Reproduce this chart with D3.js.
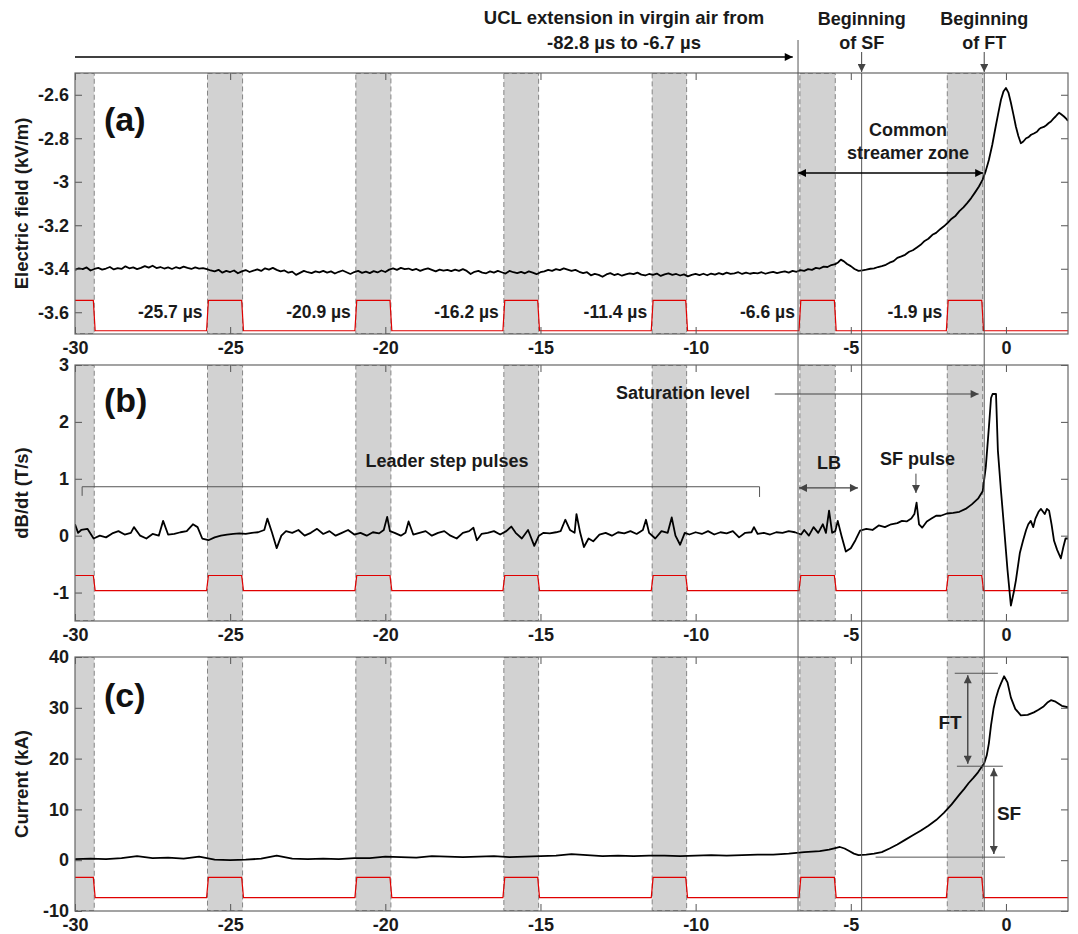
<!DOCTYPE html>
<html>
<head>
<meta charset="utf-8">
<script src="https://cdn.jsdelivr.net/npm/d3@7"></script>
<style>
  body { margin: 0; background: #fff; }
  svg { font-family: "Liberation Sans", Arial, sans-serif; font-weight: bold; }
</style>
</head>
<body>
<div id="chart"></div>
<script>
// ---- data (time in µs) ----
var xTicks = [-30, -25, -20, -15, -10, -5, 0];
var bands = [[-30.5, -29.38], [-25.73, -24.6], [-20.95, -19.82], [-16.18, -15.06], [-11.4, -10.29], [-6.64, -5.5], [-1.89, -0.75]];
var bandLabels = ["-25.7 \u00b5s", "-20.9 \u00b5s", "-16.2 \u00b5s", "-11.4 \u00b5s", "-6.6 \u00b5s", "-1.9 \u00b5s"];
var uclEnd = -6.7, sfStart = -4.65, ftStart = -0.7;

var eTicks = [-2.6, -2.8, -3, -3.2, -3.4, -3.6];
var bTicks = [3, 2, 1, 0, -1];
var iTicks = [40, 30, 20, 10, 0, -10];

// red reference traces: [low, high]
var eRed = [-3.685, -3.545];
var bRed = [-0.965, -0.70];
var iRed = [-7.35, -3.4];

// electric field before the streamer zone, one sample every 0.125 µs from -30 µs
var eFlatStart = -30, eFlatStep = 0.125;
var eFlat = [
  -3.405,-3.398,-3.402,-3.394,-3.408,-3.401,-3.396,-3.404,-3.399,-3.392,-3.403,-3.397,-3.401,-3.389,-3.398,-3.394,
  -3.402,-3.396,-3.388,-3.395,-3.386,-3.397,-3.392,-3.399,
  -3.394,-3.401,-3.393,-3.398,-3.39,-3.396,-3.401,-3.394,-3.399,-3.397,
  -3.402,-3.408,-3.412,-3.405,-3.418,-3.41,-3.415,-3.408,-3.421,-3.412,-3.406,-3.415,-3.409,-3.403,-3.41,-3.398,
  -3.404,-3.396,-3.405,-3.412,-3.408,-3.418,-3.413,-3.428,-3.419,-3.41,-3.416,-3.42,-3.412,-3.417,
  -3.41,-3.418,-3.412,-3.422,-3.414,-3.408,-3.416,-3.424,-3.415,-3.41,-3.419,-3.413,-3.42,-3.411,-3.417,-3.408,
  -3.415,-3.404,-3.398,-3.405,-3.396,-3.402,-3.399,-3.406,-3.401,-3.41,-3.403,-3.398,-3.405,-3.412,-3.404,-3.409,
  -3.405,-3.411,-3.404,-3.41,-3.402,-3.41,-3.424,-3.414,-3.41,-3.418,-3.421,-3.412,-3.418,-3.41,-3.416,-3.422,
  -3.41,-3.416,-3.42,-3.414,-3.421,-3.412,-3.418,-3.425,-3.416,-3.412,-3.405,-3.41,-3.402,-3.406,-3.398,-3.404,
  -3.41,-3.405,-3.414,-3.42,-3.416,-3.43,-3.424,-3.428,-3.437,-3.426,-3.42,-3.429,-3.424,-3.432,-3.426,-3.421,
  -3.425,-3.418,-3.427,-3.431,-3.424,-3.428,-3.422,-3.433,-3.426,-3.421,-3.428,-3.424,-3.431,-3.426,-3.435,-3.428,
  -3.424,-3.429,-3.423,-3.43,-3.422,-3.427,-3.42,-3.426,-3.418,-3.424,-3.421,-3.416,-3.424,-3.418,-3.423,-3.419,
  -3.421,-3.416,-3.423,-3.418,-3.414,-3.42,-3.416,-3.412,-3.418,-3.41
];
// electric field from -6.75 µs on: [time, kV/m]
var eTail = [
  [-6.75,-3.414],[-6.625,-3.406],[-6.5,-3.41],[-6.375,-3.402],[-6.25,-3.405],[-6.125,-3.396],[-6,-3.399],
  [-5.875,-3.39],[-5.75,-3.392],[-5.625,-3.383],[-5.5,-3.379],[-5.4,-3.37],[-5.32,-3.358],[-5.22,-3.366],
  [-5.12,-3.378],[-5,-3.388],[-4.88,-3.401],[-4.75,-3.41],[-4.62,-3.407],[-4.5,-3.404],[-4.37,-3.4],[-4.25,-3.398],
  [-4.12,-3.392],[-4,-3.388],[-3.87,-3.382],[-3.75,-3.372],[-3.62,-3.365],[-3.5,-3.35],[-3.37,-3.343],[-3.25,-3.336],
  [-3.12,-3.322],[-3,-3.315],[-2.87,-3.302],[-2.75,-3.29],[-2.62,-3.272],[-2.5,-3.262],[-2.37,-3.244],[-2.25,-3.235],
  [-2.12,-3.218],[-2,-3.205],[-1.87,-3.188],[-1.75,-3.17],[-1.62,-3.156],[-1.5,-3.135],[-1.37,-3.118],[-1.25,-3.098],
  [-1.12,-3.075],[-1,-3.05],[-0.87,-3.022],[-0.75,-2.99],[-0.65,-2.95],[-0.55,-2.9],[-0.44,-2.83],[-0.33,-2.746],
  [-0.24,-2.68],[-0.16,-2.623],[-0.08,-2.585],[0,-2.569],[0.08,-2.59],[0.16,-2.637],[0.24,-2.69],[0.32,-2.746],
  [0.4,-2.79],[0.48,-2.823],[0.56,-2.815],[0.65,-2.8],[0.73,-2.795],[0.81,-2.784],[0.9,-2.778],[1,-2.77],
  [1.07,-2.758],[1.13,-2.752],[1.22,-2.748],[1.3,-2.74],[1.38,-2.73],[1.45,-2.723],[1.53,-2.71],[1.6,-2.7],
  [1.66,-2.69],[1.71,-2.683],[1.78,-2.69],[1.87,-2.7],[1.94,-2.71],[2,-2.72]
];
var eField = eFlat.map(function(v, i) { return [eFlatStart + i * eFlatStep, v]; }).concat(eTail);

var dBdt = [
  [-30,0.2],[-29.9,0.05],[-29.8,0.1],[-29.6,0.12],[-29.4,-0.05],[-29.2,0],[-29,-0.03],[-28.8,0.04],[-28.6,0.08],
  [-28.4,0.02],[-28.2,0.05],[-28.1,0.15],[-27.9,0],[-27.7,-0.05],[-27.5,0.03],[-27.3,0],[-27.16,0.26],[-27,0.02],
  [-26.8,0.03],[-26.6,0.06],[-26.4,0.08],[-26.2,0.2],[-26.05,0.15],[-25.9,-0.05],[-25.7,-0.08],[-25.5,-0.03],
  [-25.3,0],[-25.1,0.02],[-24.9,0.03],[-24.7,0.04],[-24.5,0.03],[-24.3,0.05],[-24.1,0.06],[-23.9,0.1],[-23.8,0.3],
  [-23.65,0.05],[-23.5,-0.22],[-23.35,0],[-23.2,0.08],[-23,0.05],[-22.8,0.1],[-22.6,0],[-22.4,0.05],[-22.2,0.12],
  [-22,0.03],[-21.8,0.08],[-21.6,0],[-21.4,0.05],[-21.2,0.1],[-21,0.02],[-20.8,0.05],[-20.6,0],[-20.4,0.06],
  [-20.2,0.04],[-20.05,0.1],[-19.94,0.33],[-19.85,0.08],[-19.7,0.05],[-19.5,0],[-19.35,0.05],[-19.25,0.25],
  [-19.1,0.02],[-18.9,0.05],[-18.7,0.08],[-18.5,0],[-18.3,0.05],[-18.1,0.08],[-17.9,0],[-17.7,-0.05],[-17.5,0.05],
  [-17.3,0.08],[-17.16,0.14],[-17.05,-0.08],[-16.9,0.03],[-16.7,0.05],[-16.5,0.08],[-16.3,0.02],[-16.1,0.08],
  [-15.94,0.16],[-15.8,0.05],[-15.6,-0.05],[-15.4,0.1],[-15.2,-0.18],[-15.05,0],[-14.9,0.05],[-14.7,0.04],
  [-14.5,0.06],[-14.35,0.08],[-14.2,0.28],[-14.05,0.1],[-13.9,0.05],[-13.84,0.38],[-13.72,0.05],[-13.6,-0.2],
  [-13.45,-0.05],[-13.3,-0.1],[-13.1,0.02],[-12.9,0.05],[-12.7,0],[-12.5,0.06],[-12.3,0.04],[-12.1,0.08],
  [-11.9,0.03],[-11.7,0.1],[-11.6,0.28],[-11.5,0.05],[-11.3,-0.05],[-11.1,0.08],[-10.9,0.05],[-10.77,0.32],
  [-10.65,0],[-10.5,-0.16],[-10.35,0.05],[-10.2,0.02],[-10,0.06],[-9.8,0.03],[-9.6,0.08],[-9.4,0.02],[-9.2,0.06],
  [-9,0.04],[-8.8,0.08],[-8.6,-0.03],[-8.4,0.05],[-8.2,0.06],[-8.12,0.15],[-8,0.03],[-7.8,0.05],[-7.6,0.02],
  [-7.4,0.06],[-7.2,0.05],[-7,0.08],[-6.8,0.06],[-6.6,0.02],[-6.5,0.1],[-6.35,0],[-6.2,0.15],[-6.05,0.05],
  [-5.9,0.2],[-5.8,0.05],[-5.7,0.44],[-5.6,0.05],[-5.5,0.08],[-5.42,0.26],[-5.3,0],[-5.16,-0.28],[-5,-0.22],
  [-4.85,-0.08],[-4.7,0.09],[-4.5,0.12],[-4.3,0.1],[-4.1,0.18],[-3.9,0.15],[-3.7,0.2],[-3.5,0.22],[-3.35,0.26],
  [-3.2,0.25],[-3.05,0.3],[-2.95,0.38],[-2.88,0.58],[-2.8,0.2],[-2.7,0.14],[-2.55,0.25],[-2.4,0.3],[-2.25,0.35],
  [-2.1,0.35],[-1.9,0.39],[-1.7,0.4],[-1.5,0.42],[-1.3,0.47],[-1.1,0.55],[-0.9,0.65],[-0.75,0.78],[-0.65,1.2],
  [-0.55,1.9],[-0.48,2.42],[-0.43,2.49],[-0.32,2.49],[-0.26,1.5],[-0.16,0.79],[-0.06,0.14],[0.05,-0.6],
  [0.16,-1.23],[0.25,-1],[0.32,-0.79],[0.45,-0.3],[0.55,-0.09],[0.65,0.1],[0.72,0.2],[0.8,0.26],[0.88,0.15],
  [0.95,0.3],[1.05,0.42],[1.13,0.47],[1.25,0.38],[1.32,0.47],[1.39,0.44],[1.47,0.2],[1.55,-0.09],[1.65,-0.25],
  [1.77,-0.4],[1.85,-0.2],[1.92,-0.05],[2,-0.05]
];

var current = [
  [-30,0.2],[-29.5,0.3],[-29,0.2],[-28.5,0.4],[-28,0.8],[-27.5,0.4],[-27,0.5],[-26.5,0.3],[-26,0.7],[-25.5,0.1],
  [-25,0],[-24.5,0.1],[-24,0.3],[-23.5,0.9],[-23,0.3],[-22.5,0.2],[-22,0.3],[-21.5,0.2],[-21,0.4],[-20.5,0.4],
  [-20,0.7],[-19.5,0.6],[-19,0.5],[-18.5,0.8],[-18,0.7],[-17.5,0.6],[-17,0.7],[-16.5,0.8],[-16,0.6],[-15.5,0.7],
  [-15,0.8],[-14.5,0.9],[-14,1.2],[-13.5,1],[-13,0.8],[-12.5,0.9],[-12,0.8],[-11.5,0.9],[-11,0.9],[-10.5,0.8],
  [-10,0.9],[-9.5,1],[-9,0.9],[-8.5,1],[-8,1.1],[-7.5,1.1],[-7,1.3],[-6.5,1.6],[-6,1.8],[-5.7,2.1],[-5.5,2.4],
  [-5.35,2.6],[-5.2,2.3],[-5.05,1.8],[-4.9,1.3],[-4.75,1],[-4.5,1.1],[-4.25,1.3],[-4,1.6],[-3.75,2.3],[-3.5,3.1],
  [-3.25,4],[-3,4.9],[-2.75,5.8],[-2.5,6.8],[-2.25,7.9],[-2,9.3],[-1.75,11],[-1.5,12.9],[-1.35,14],[-1.2,15.2],
  [-1.05,16.2],[-0.9,17.3],[-0.8,18.2],[-0.7,19.1],[-0.62,20.6],[-0.55,23],[-0.48,26.6],[-0.4,29.8],[-0.32,32],
  [-0.24,33.6],[-0.16,34.8],[-0.06,36.2],[0.05,35],[0.16,32],[0.3,29.8],[0.48,28.5],[0.7,28.6],[0.9,29.1],
  [1.05,29.6],[1.2,30.2],[1.35,31.1],[1.45,31.5],[1.6,31.2],[1.8,30.4],[2,30.1]
];

// ---- layout ----
var W = 1078, H = 934;
var svg = d3.select("#chart").append("svg").attr("width", W).attr("height", H);

var defs = svg.append("defs");
function arrowMarker(id, color) {
  defs.append("marker")
    .attr("id", id)
    .attr("viewBox", "0 0 10 10")
    .attr("refX", 10).attr("refY", 5)
    .attr("markerWidth", 10).attr("markerHeight", 8)
    .attr("markerUnits", "userSpaceOnUse")
    .attr("orient", "auto-start-reverse")
    .append("path").attr("d", "M0,0L10,5L0,10z").attr("fill", color);
}
arrowMarker("arrBlack", "#000");
arrowMarker("arrGray", "#444");

var x = d3.scaleLinear().domain([-30, 2]).range([75, 1068]);

var panels = [
  {key: "a", data: eField, red: eRed, ticks: eTicks, domain: [-3.7, -2.5], top: 73, bottom: 334, title: "Electric field (kV/m)", label: "(a)", labelY: 131},
  {key: "b", data: dBdt, red: bRed, ticks: bTicks, domain: [-1.5, 3], top: 365, bottom: 621, title: "dB/dt (T/s)", label: "(b)", labelY: 412},
  {key: "c", data: current, red: iRed, ticks: iTicks, domain: [-10, 40], top: 657, bottom: 911, title: "Current (kA)", label: "(c)", labelY: 707}
];

function redSteps(lv) {
  var pts = [[-30, lv[1]]];
  bands.forEach(function(b) {
    if (b[0] > -30) {
      pts.push([b[0] - 0.03, lv[0]], [b[0] + 0.03, lv[1]]);
    }
    pts.push([b[1] - 0.03, lv[1]], [b[1] + 0.03, lv[0]]);
  });
  pts.push([2, lv[0]]);
  return pts;
}

function styleAxis(g) {
  g.select(".domain").remove();
  g.attr("font-family", null).attr("font-size", 18).attr("font-weight", "bold");
  g.selectAll(".tick line").attr("stroke", "#555");
  g.selectAll(".tick text").attr("fill", "#1a1a1a");
}

panels.forEach(function(p) {
  var y = d3.scaleLinear().domain(p.domain).range([p.bottom, p.top]);
  p.y = y;
  var g = svg.append("g");

  defs.append("clipPath").attr("id", "clip" + p.key)
    .append("rect").attr("x", x(-30)).attr("y", p.top)
    .attr("width", x(2) - x(-30)).attr("height", p.bottom - p.top);

  var plot = g.append("g").attr("clip-path", "url(#clip" + p.key + ")");

  plot.selectAll("rect.band").data(bands).enter().append("rect")
    .attr("class", "band")
    .attr("x", function(d) { return x(d[0]); })
    .attr("width", function(d) { return x(d[1]) - x(d[0]); })
    .attr("y", p.top + 0.5)
    .attr("height", p.bottom - p.top - 1)
    .attr("fill", "#d2d2d2")
    .attr("stroke", "#858585")
    .attr("stroke-width", 1)
    .attr("stroke-dasharray", "5,3");

  var line = d3.line().x(function(d) { return x(d[0]); }).y(function(d) { return y(d[1]); });

  plot.append("path").datum(redSteps(p.red))
    .attr("d", line).attr("fill", "none").attr("stroke", "#e00000").attr("stroke-width", 1.2);

  plot.append("path").datum(p.data)
    .attr("d", line).attr("fill", "none").attr("stroke", "#000").attr("stroke-width", 1.8)
    .attr("stroke-linejoin", "round");

  // axes, ticks pointing inward
  g.append("g").attr("transform", "translate(0," + p.bottom + ")")
    .call(d3.axisBottom(x).tickValues(xTicks).tickSize(-7).tickPadding(7).tickFormat(String))
    .call(styleAxis);
  g.append("g").attr("transform", "translate(0," + p.top + ")")
    .call(d3.axisTop(x).tickValues(xTicks).tickSize(-7).tickFormat(""))
    .call(styleAxis);
  g.append("g").attr("transform", "translate(" + x(-30) + ",0)")
    .call(d3.axisLeft(y).tickValues(p.ticks).tickSize(-7).tickPadding(6).tickFormat(String))
    .call(styleAxis);
  g.append("g").attr("transform", "translate(" + x(2) + ",0)")
    .call(d3.axisRight(y).tickValues(p.ticks).tickSize(-7).tickFormat(""))
    .call(styleAxis);

  g.append("rect")
    .attr("x", x(-30)).attr("y", p.top)
    .attr("width", x(2) - x(-30)).attr("height", p.bottom - p.top)
    .attr("fill", "none").attr("stroke", "#666").attr("stroke-width", 1.2);

  g.append("text")
    .attr("transform", "translate(28," + ((p.top + p.bottom) / 2) + ") rotate(-90)")
    .attr("text-anchor", "middle").attr("font-size", 18.5).attr("fill", "#1a1a1a")
    .text(p.title);

  g.append("text").attr("x", 104).attr("y", p.labelY)
    .attr("font-size", 34).attr("fill", "#111").text(p.label);
});

var pa = panels[0], pb = panels[1], pc = panels[2];

// vertical marker lines crossing all panels
[[uclEnd, 40], [sfStart, pa.top], [ftStart, pa.top]].forEach(function(m) {
  svg.append("line")
    .attr("x1", x(m[0])).attr("x2", x(m[0]))
    .attr("y1", m[1]).attr("y2", pc.bottom)
    .attr("stroke", "#555").attr("stroke-width", 1);
});

function txt(xp, yp, s, size, anchor) {
  return svg.append("text").attr("x", xp).attr("y", yp)
    .attr("font-size", size || 18).attr("text-anchor", anchor || "middle")
    .attr("fill", "#1a1a1a").text(s);
}
function arrow(x1, y1, x2, y2, color, both, w) {
  var id = color === "#000" ? "arrBlack" : "arrGray";
  var l = svg.append("line").attr("x1", x1).attr("y1", y1).attr("x2", x2).attr("y2", y2)
    .attr("stroke", color).attr("stroke-width", w || 1.3)
    .attr("marker-end", "url(#" + id + ")");
  if (both) l.attr("marker-start", "url(#" + id + ")");
  return l;
}
function seg(x1, y1, x2, y2) {
  svg.append("line").attr("x1", x1).attr("y1", y1).attr("x2", x2).attr("y2", y2)
    .attr("stroke", "#555").attr("stroke-width", 1);
}

// top annotations
txt(624, 24, "UCL extension in virgin air from", 18.5);
txt(624, 49, "-82.8 \u00b5s to -6.7 \u00b5s", 18.5);
arrow(x(-30), 57, x(-6.87), 57, "#000", false, 1.6);
txt(x(sfStart), 25, "Beginning", 18);
txt(x(sfStart), 49, "of SF", 18);
arrow(x(sfStart), 52, x(sfStart), 72, "#444", false, 1);
txt(x(ftStart), 25, "Beginning", 18);
txt(x(ftStart), 49, "of FT", 18);
arrow(x(ftStart), 52, x(ftStart), 72, "#444", false, 1);

// panel (a)
bands.slice(1).forEach(function(b, i) {
  txt(x(b[0]) - 5, pa.y(-3.6) + 6, bandLabels[i], 17.5, "end");
});
txt(908, 136, "Common", 18);
txt(908, 159, "streamer zone", 18);
arrow(x(uclEnd), 173, x(ftStart) - 1, 173, "#000", true, 1.6);

// panel (b)
txt(683, 399, "Saturation level", 18);
arrow(x(-7.45), pb.y(2.49), x(-0.88), pb.y(2.49), "#444", false, 1);
txt(447, 467, "Leader step pulses", 18);
seg(x(-29.77), pb.y(0.86), x(-7.94), pb.y(0.86));
seg(x(-29.77), pb.y(0.86), x(-29.77), pb.y(0.7));
seg(x(-7.94), pb.y(0.86), x(-7.94), pb.y(0.68));
txt(x(-5.7), 469, "LB", 18);
arrow(x(uclEnd) + 1, pb.y(0.84), x(-4.77), pb.y(0.84), "#444", true, 1.4);
txt(x(-2.85), 465, "SF pulse", 18);
arrow(x(-2.9), pb.y(1.09), x(-2.9), pb.y(0.75), "#444", false, 1);

// panel (c)
seg(x(-1.65), pc.y(36.8), x(-0.26), pc.y(36.8));
seg(x(-1.58), pc.y(18.5), x(-0.1), pc.y(18.5));
seg(x(-4.2), pc.y(0.6), x(-0.03), pc.y(0.6));
arrow(x(-1.23), pc.y(36.4), x(-1.23), pc.y(19.0), "#444", true, 1.4);
arrow(x(-0.39), pc.y(18.1), x(-0.39), pc.y(1.2), "#444", true, 1.4);
txt(x(-1.8), 729, "FT", 19);
txt(x(0.1), 820, "SF", 19);
</script>
</body>
</html>
